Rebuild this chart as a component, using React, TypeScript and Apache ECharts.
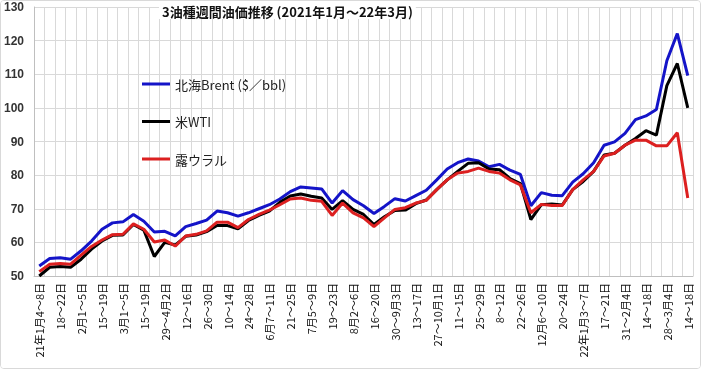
import React, { useEffect, useRef } from "react";
import * as echarts from "echarts";

const weeks = [
  "21年1月4～8日", "11～15日", "18～22日", "25～29日", "2月1～5日", "8～12日", "15～19日", "22～26日",
  "3月1～5日", "8～12日", "15～19日", "22～26日", "29～4月2日", "5～9日", "12～16日", "19～23日",
  "26～30日", "5月3～7日", "10～14日", "17～21日", "24～28日", "31～6月4日", "6月7～11日", "14～18日",
  "21～25日", "28～7月2日", "7月5～9日", "12～16日", "19～23日", "26～30日", "8月2～6日", "9～13日",
  "16～20日", "23～27日", "30～9月3日", "6～10日", "13～17日", "20～24日", "27～10月1日", "4～8日",
  "11～15日", "18～22日", "25～29日", "11月1～5日", "8～12日", "15～19日", "22～26日", "29～12月3日",
  "12月6～10日", "13～17日", "20～24日", "27～31日", "22年1月3～7日", "10～14日", "17～21日", "24～28日",
  "31～2月4日", "7～11日", "14～18日", "21～25日", "28～3月4日", "7～11日", "14～18日",
];

const brent = [
  53.0, 55.2, 55.4, 55.0, 57.5, 60.4, 63.9, 65.8, 66.1, 68.3, 66.3, 63.1, 63.3, 61.9, 64.7, 65.6,
  66.6, 69.3, 68.8, 67.8, 68.8, 70.0, 71.2, 72.9, 75.1, 76.5, 76.2, 75.9, 71.7, 75.4, 72.7, 70.9,
  68.6, 70.7, 73.0, 72.3, 73.9, 75.5, 78.6, 81.8, 83.7, 84.8, 84.2, 82.5, 83.2, 81.5, 80.2, 70.9,
  74.8, 74.0, 73.9, 77.9, 80.4, 83.7, 88.9, 89.9, 92.4, 96.5, 97.6, 99.5, 114.0, 122.1, 109.6,
];

const wti = [
  50.0, 52.6, 52.8, 52.6, 55.0, 58.0, 60.4, 62.1, 62.2, 65.3, 63.6, 55.8, 60.0, 59.2, 61.8, 62.2,
  63.2, 65.0, 65.0, 64.0, 66.5, 68.0, 69.3, 71.9, 73.8, 74.4, 73.7, 73.2, 69.8, 72.4, 69.8, 68.3,
  65.3, 67.6, 69.5, 69.6, 71.5, 72.6, 75.7, 78.6, 81.1, 83.5, 83.7, 81.8, 81.6, 79.0, 77.5, 66.8,
  71.2, 71.4, 71.1, 75.7, 78.1, 81.1, 86.0, 86.5, 88.9, 90.9, 93.2, 91.9, 106.6, 113.2, 100.0,
];

const urals = [
  51.3, 53.5, 53.7, 53.5, 56.2, 58.8, 60.7, 62.3, 62.4, 65.5, 63.9, 60.1, 60.7, 58.9, 61.9, 62.4,
  63.4, 66.0, 66.0, 64.4, 66.8, 68.3, 69.6, 71.2, 72.9, 73.2, 72.5, 72.2, 68.0, 71.7, 68.8, 67.3,
  64.7, 67.3, 69.8, 70.3, 71.7, 72.5, 75.7, 78.6, 80.6, 81.1, 82.1, 81.1, 80.6, 78.6, 77.1, 68.8,
  71.3, 71.0, 71.0, 75.7, 78.6, 81.1, 85.7, 86.5, 88.9, 90.4, 90.4, 88.7, 88.7, 92.6, 73.2,
];

const seriesNames = ["北海Brent ($／bbl)", "米WTI", "露ウラル"];
const titleText = "3油種週間油価推移 (2021年1月～22年3月)";

export default function App() {
  const ref = useRef<HTMLDivElement>(null);
  useEffect(() => {
    if (!ref.current) return;
    const chart = echarts.init(ref.current, null, { renderer: "svg" });
    const font = "'Noto Sans CJK JP', 'Liberation Sans', sans-serif";
    const mk = (name: string, data: number[], color: string) => ({
      name,
      type: "line",
      data,
      symbol: "none",
      lineStyle: { width: 3, color },
      itemStyle: { color },
    });
    chart.setOption({
      animation: false,
      backgroundColor: "#ffffff",
      textStyle: { fontFamily: font },
      title: {
        text: titleText,
        left: 158,
        top: 3,
        padding: [1, 3],
        backgroundColor: "#ffffff",
        textStyle: { fontSize: 13, fontWeight: "bold", color: "#111", fontFamily: font },
      },
      legend: {
        orient: "vertical",
        left: 136,
        top: 71,
        icon: "rect",
        itemWidth: 28,
        itemHeight: 3,
        itemGap: 23.5,
        textStyle: { fontSize: 13, color: "#222", fontFamily: font, lineHeight: 14 },
        data: seriesNames,
      },
      grid: { left: 32, right: 7, top: 6, bottom: 92, containLabel: false },
      xAxis: {
        type: "category",
        data: weeks,
        boundaryGap: true,
        axisLine: { lineStyle: { color: "#bfbfbf" } },
        axisTick: { show: false },
        axisLabel: {
          interval: 1,
          rotate: 90,
          fontSize: 11,
          color: "#111",
          margin: 7,
          fontFamily: font,
        },
        splitLine: { show: true, interval: 0, lineStyle: { color: "#d9d9d9", width: 1 } },
      },
      yAxis: {
        type: "value",
        min: 50,
        max: 130,
        interval: 10,
        axisLine: { show: true, lineStyle: { color: "#bfbfbf" } },
        axisTick: { show: false },
        axisLabel: {
          fontSize: 12,
          fontWeight: "bold",
          color: "#333",
          margin: 10,
          fontFamily: "'Liberation Sans', Arial, sans-serif",
        },
        splitLine: { lineStyle: { color: "#d9d9d9", width: 1 } },
      },
      series: [
        mk(seriesNames[0], brent, "#1414c8"),
        mk(seriesNames[1], wti, "#000000"),
        mk(seriesNames[2], urals, "#dc2020"),
      ],
    });
    return () => chart.dispose();
  }, []);
  return (
    <div
      ref={ref}
      style={{
        position: "fixed",
        left: 0,
        top: 0,
        width: 701,
        height: 369,
        boxSizing: "border-box",
        border: "1px solid #d9d9d9",
        borderRadius: 4,
        overflow: "hidden",
      }}
    />
  );
}
